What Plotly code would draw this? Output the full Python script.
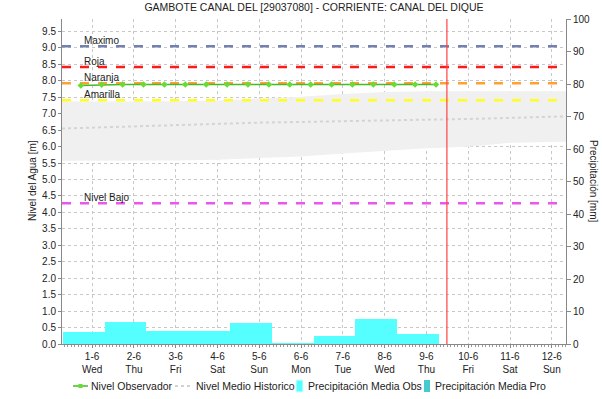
import plotly.graph_objects as go

# dias (1 = 1-6), eje numerico en dias
dias = [1, 2, 3, 4, 5, 6, 7, 8, 9, 10, 11, 12]
etiquetas = ["1-6<br>Wed", "2-6<br>Thu", "3-6<br>Fri", "4-6<br>Sat", "5-6<br>Sun", "6-6<br>Mon",
             "7-6<br>Tue", "8-6<br>Wed", "9-6<br>Thu", "10-6<br>Fri", "11-6<br>Sat", "12-6<br>Sun"]

# nivel observado (cada 12 horas)
obs_x = [0.73, 1.23, 1.73, 2.23, 2.73, 3.23, 3.73, 4.23, 4.73, 5.23, 5.73, 6.23, 6.73, 7.23, 7.73,
         8.23, 8.73, 9.23]
obs_y = [7.86, 7.88, 7.89, 7.89, 7.89, 7.89, 7.89, 7.89, 7.89, 7.89, 7.89, 7.89, 7.89, 7.89, 7.89,
         7.89, 7.89, 7.89]

# nivel medio historico y banda
hist_x = [0.28, 1, 2, 3, 4, 5, 6, 7, 8, 9, 10, 11, 12, 12.34]
hist_medio = [6.55, 6.58, 6.62, 6.66, 6.70, 6.73, 6.75, 6.78, 6.81, 6.82, 6.84, 6.88, 6.91, 6.92]
hist_max = [7.37, 7.37, 7.37, 7.38, 7.40, 7.45, 7.52, 7.60, 7.66, 7.68, 7.68, 7.68, 7.68, 7.68]
hist_min = [5.57, 5.57, 5.57, 5.58, 5.60, 5.64, 5.70, 5.79, 5.88, 5.95, 6.00, 6.12, 6.14, 6.15]

# precipitacion diaria observada [mm]
prec_x = [0.8, 1.8, 2.8, 3.8, 4.8, 5.8, 6.8, 7.8, 8.8]
prec_obs = [3.8, 6.9, 4.0, 4.0, 6.6, 0.3, 2.6, 7.7, 3.1]

# umbrales
umbrales = ["Maximo", "Roja", "Naranja", "Amarilla", "Nivel Bajo"]
umbral_val = [9.05, 8.42, 7.93, 7.41, 4.28]
umbral_col = ["#7381b0", "#ff1a1a", "#ffa033", "#ffff1a", "#ee55ee"]

ahora = 9.49

W, H = 602, 399
ML, MR, MT, MB = 62, 36, 19, 55
pw = W - ML - MR
ph = H - MT - MB


def px(x):
    return (x - ML) / pw


def py(y):
    return (H - MB - y) / ph


fig = go.Figure()

fig.add_trace(go.Scatter(x=hist_x, y=hist_max, mode="lines", line_width=0, hoverinfo="skip"))
fig.add_trace(go.Scatter(x=hist_x, y=hist_min, mode="lines", line_width=0, fill="tonexty",
                         fillcolor="#f0f0f0", hoverinfo="skip"))
fig.add_trace(go.Scatter(x=hist_x, y=hist_medio, mode="lines", name="Nivel Medio Historico",
                         line=dict(color="#d4d4d4", width=2, dash="dot")))

fig.add_trace(go.Bar(x=prec_x, y=prec_obs, width=1, yaxis="y2", marker_color="#55ffff",
                     marker_line_width=0, name="Precipitación Media Obs"))

for nom, val, col in zip(umbrales, umbral_val, umbral_col):
    fig.add_trace(go.Scatter(x=[0.28, 12.34], y=[val, val], mode="lines",
                             line=dict(color=col, width=2.5, dash="dash")))
    fig.add_annotation(x=0.76, y=val, text=nom, showarrow=False, xanchor="left", yanchor="middle",
                       yshift=6, font=dict(size=10, color="#222"))

fig.add_trace(go.Scatter(x=obs_x, y=obs_y, mode="lines+markers", name="Nivel Observador",
                         line=dict(color="#44bb22", width=1.5),
                         marker=dict(color="#66dd33", size=5, symbol="diamond")))

fig.add_shape(type="line", x0=ahora, x1=ahora, y0=0, y1=1, yref="paper",
              line=dict(color="#ff4444", width=1.2))

fig.add_annotation(text="Nivel del Agua [m]", x=px(32), y=py(181), xref="paper", yref="paper",
                   xanchor="center", yanchor="middle", showarrow=False, textangle=-90,
                   font=dict(size=10, color="#222"))
fig.add_annotation(text="Precipitación [mm]", x=px(594), y=py(181), xref="paper", yref="paper",
                   xanchor="center", yanchor="middle", showarrow=False, textangle=90,
                   font=dict(size=10, color="#222"))

# leyenda (dibujada a mano para igualar el original)
ly = 386
ley_texto = ["Nivel Observador", "Nivel Medio Historico", "Precipitación Media Obs",
             "Precipitación Media Pro"]
ley_x = [89, 194, 306, 433]
for t, x in zip(ley_texto, ley_x):
    fig.add_annotation(text=t, x=px(x), y=py(ly), xref="paper", yref="paper", showarrow=False,
                       xanchor="left", yanchor="middle", font=dict(size=10.5, color="#222"))
fig.add_shape(type="line", xref="paper", yref="paper", x0=px(73), x1=px(88), y0=py(ly), y1=py(ly),
              line=dict(color="#44bb22", width=1.5))
fig.add_shape(type="rect", xref="paper", yref="paper", x0=px(78.5), x1=px(82.5), y0=py(ly - 2),
              y1=py(ly + 2), fillcolor="#66dd33", line_width=0)
fig.add_shape(type="line", xref="paper", yref="paper", x0=px(175), x1=px(190), y0=py(ly), y1=py(ly),
              line=dict(color="#d2d2d2", width=2, dash="dot"))
fig.add_shape(type="rect", xref="paper", yref="paper", x0=px(296), x1=px(303), y0=py(ly - 6),
              y1=py(ly + 6), fillcolor="#55ffff", line=dict(color="#dfffff", width=1))
fig.add_shape(type="rect", xref="paper", yref="paper", x0=px(424), x1=px(430), y0=py(ly - 6),
              y1=py(ly + 6), fillcolor="#44cccc", line_width=0)

fig.update_layout(
    width=W, height=H,
    margin=dict(l=ML, r=MR, t=MT, b=MB, autoexpand=False),
    paper_bgcolor="white", plot_bgcolor="white",
    font=dict(family="Liberation Sans, Arial, sans-serif", size=10, color="#222"),
    title=dict(text="GAMBOTE CANAL DEL [29037080] - CORRIENTE: CANAL DEL DIQUE", x=0.5216,
               y=0.99, xanchor="center", yanchor="top", font=dict(size=10.5, color="#222")),
    bargap=0,
    showlegend=False,
    xaxis=dict(range=[0.28, 12.34], tickvals=dias, ticktext=etiquetas, showgrid=True,
               gridcolor="#c8c8c8", griddash="dot", showline=True, linecolor="#888",
               ticks="outside", ticklen=3, tickcolor="#888", zeroline=False, automargin=False,
               minor=dict(dtick=1 / 12, ticks="outside", ticklen=2, tickcolor="#999")),
    yaxis=dict(range=[0, 9.88], dtick=0.5, tickformat=".1f", showgrid=True, gridcolor="#c8c8c8",
               griddash="dot", showline=True, linecolor="#888", ticks="outside", ticklen=3,
               tickcolor="#888", zeroline=False, automargin=False),
    yaxis2=dict(range=[0, 100], dtick=10, overlaying="y", side="right", showgrid=False,
                showline=True, linecolor="#888", ticks="outside", ticklen=4, tickcolor="#888",
                zeroline=False, automargin=False),
)

fig.write_html("out.html", config={"displayModeBar": False},
               post_script="document.body.style.margin='0';")
